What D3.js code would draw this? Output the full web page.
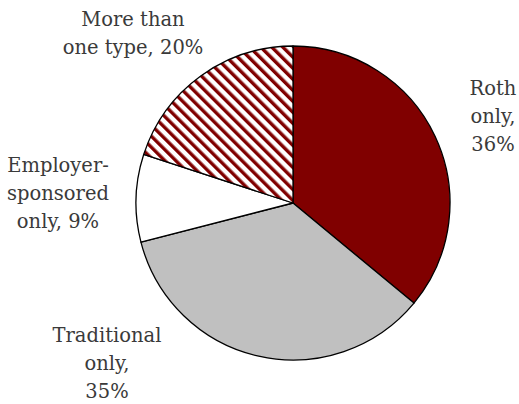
<!DOCTYPE html>
<html>
<head>
<meta charset="utf-8">
<script src="https://cdn.jsdelivr.net/npm/d3@7"></script>
<style>
  body { margin: 0; background: #fff; }
</style>
</head>
<body>
<div id="chart"></div>
<script>
// Data
const categories = ["Roth only", "Traditional only", "Employer-sponsored only", "More than one type"];
const shares = [36, 35, 9, 20];
const labelLines = [
    ["Roth", "only,", "36%"],
    ["Traditional", "only,", "35%"],
    ["Employer-", "sponsored", "only, 9%"],
    ["More than", "one type, 20%"]
];

// Set up the dimensions
const width = 519;
const height = 404;
const cx = 293, cy = 203, radius = 157;

// label anchors (centre of first line baseline)
const labelPos = [
    [493, 95],
    [107, 342],
    [58, 172],
    [133, 26]
];

const svg = d3.select("#chart")
    .append("svg")
    .attr("width", width)
    .attr("height", height);

// hatch for "more than one type"
const defs = svg.append("defs");
const pat = defs.append("pattern")
    .attr("id", "hatch")
    .attr("patternUnits", "userSpaceOnUse")
    .attr("width", 7.8)
    .attr("height", 7.8)
    .attr("patternTransform", "rotate(-45)");
pat.append("rect").attr("width", 7.8).attr("height", 7.8).attr("fill", "#fff");
pat.append("rect").attr("width", 3.4).attr("height", 7.8).attr("fill", "#800000");

const fills = ["#800000", "#c0c0c0", "#ffffff", "url(#hatch)"];

const pie = d3.pie().sort(null).value(d => d);
const arc = d3.arc().innerRadius(0).outerRadius(radius);

const g = svg.append("g")
    .attr("transform", `translate(${cx},${cy})`);

g.selectAll("path")
    .data(pie(shares))
    .enter()
    .append("path")
    .attr("d", arc)
    .attr("fill", (d, i) => fills[i])
    .attr("stroke", "#000")
    .attr("stroke-width", 1.3)
    .attr("stroke-linejoin", "round");

// Labels
labelLines.forEach((lines, i) => {
    const t = svg.append("text")
        .attr("x", labelPos[i][0])
        .attr("y", labelPos[i][1])
        .attr("text-anchor", "middle")
        .style("font-family", "'DejaVu Serif', serif")
        .style("font-size", "19.5px")
        .attr("fill", "#3a3a3a");
    lines.forEach((s, j) => {
        t.append("tspan")
            .attr("x", labelPos[i][0])
            .attr("dy", j === 0 ? 0 : 28)
            .text(s);
    });
});
</script>
</body>
</html>
